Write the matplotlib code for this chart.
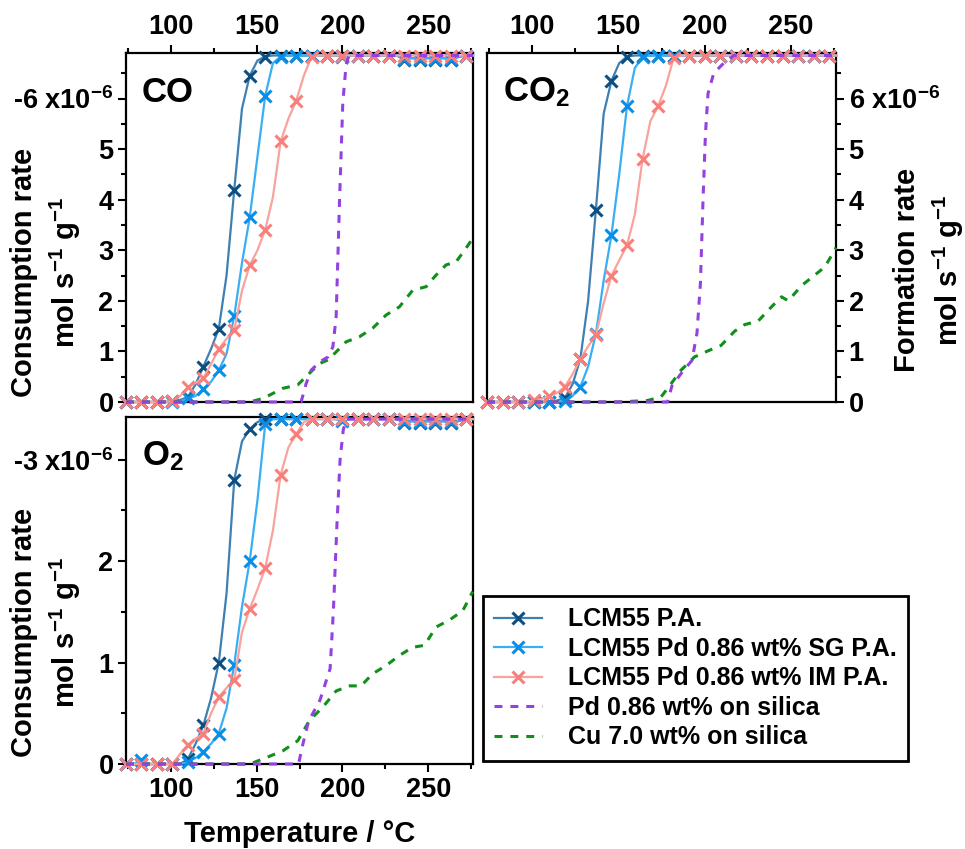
import matplotlib
matplotlib.use("Agg")
import matplotlib.pyplot as plt
from matplotlib.ticker import MultipleLocator, FuncFormatter

plt.rcParams['font.family'] = ['Liberation Sans', 'DejaVu Sans']
plt.rcParams['font.weight'] = 'bold'
plt.rcParams['mathtext.default'] = 'regular'

# temperature grid of the LCM55 curves (markers every second point)
temp = [74, 78.5, 83, 87.5, 92, 96.5, 101, 105.5, 110, 114.5, 119, 123.5, 128, 132.5,
        137, 141.5, 146, 150.5, 155, 159.5, 164, 168.5, 173, 177.5, 182, 186.5, 191,
        195.5, 200, 204.5, 209, 213.5, 218, 222.5, 227, 231.5, 236, 240.5, 245, 249.5,
        254, 258.5, 263, 267.5, 272, 276]

# ---- CO consumption (x1e-6 mol/s/g) ----
co_pa = [0, 0, 0, 0, 0, 0, 0.02, 0.04, 0.1, 0.35, 0.7, 1.05, 1.45, 2.5,
         4.2, 5.8, 6.45, 6.75, 6.83, 6.85, 6.85, 6.85, 6.85, 6.85, 6.85, 6.85, 6.85,
         6.85, 6.85, 6.85, 6.85, 6.85, 6.85, 6.85, 6.85, 6.85, 6.77, 6.8, 6.77, 6.8,
         6.77, 6.8, 6.77, 6.82, 6.85, 6.85]
co_sg = [0, 0, 0, 0, 0, 0, 0, 0.01, 0.07, 0.12, 0.26, 0.4, 0.63, 0.95,
         1.7, 2.75, 3.65, 4.85, 6.05, 6.7, 6.83, 6.85, 6.85, 6.85, 6.85, 6.85, 6.85,
         6.85, 6.82, 6.85, 6.85, 6.85, 6.85, 6.85, 6.85, 6.85, 6.78, 6.8, 6.78, 6.8,
         6.78, 6.8, 6.78, 6.82, 6.85, 6.85]
co_im = [0, 0, 0, 0, 0, 0, 0.02, 0.12, 0.3, 0.38, 0.47, 0.75, 1.05, 1.25,
         1.42, 2.2, 2.7, 3.0, 3.4, 4.05, 5.15, 5.6, 5.95, 6.45, 6.83, 6.85, 6.85,
         6.85, 6.85, 6.85, 6.85, 6.85, 6.85, 6.85, 6.85, 6.85, 6.85, 6.85, 6.85, 6.85,
         6.85, 6.85, 6.85, 6.85, 6.85, 6.85]
co_pd_t = [74, 175.9, 178.8, 181.8, 186.6, 191.5, 194.4, 196.3, 198.3, 200.2, 202.1, 203.7, 276]
co_pd = [0, 0, 0.36, 0.63, 0.79, 0.89, 1.09, 1.68, 4.0, 5.93, 6.66, 6.85, 6.85]
co_cu_t = [74, 146, 153.7, 165.3, 174, 180.8, 186.6, 191.5, 196.3, 202.1, 209.9, 217.6,
           225.4, 233.1, 240.9, 248.7, 254.5, 260.3, 266.1, 271.9, 275.7]
co_cu = [0, 0, 0.07, 0.27, 0.34, 0.57, 0.76, 0.83, 0.99, 1.19, 1.29, 1.46,
         1.72, 1.88, 2.21, 2.28, 2.51, 2.71, 2.77, 3.04, 3.23]

# ---- CO2 formation ----
co2_pa = [0, 0, 0, 0, 0, 0, 0, 0, 0, 0.03, 0.08, 0.35, 0.85, 2.0,
          3.8, 5.7, 6.35, 6.7, 6.83, 6.85, 6.85, 6.85, 6.85, 6.85, 6.85, 6.85, 6.85,
          6.85, 6.85, 6.85, 6.85, 6.85, 6.85, 6.85, 6.85, 6.85, 6.85, 6.85, 6.85, 6.85,
          6.85, 6.85, 6.85, 6.85, 6.85, 6.85]
co2_sg = [0, 0, 0, 0, 0, 0, 0, 0, 0, 0, 0.02, 0.12, 0.3, 0.7,
          1.35, 2.4, 3.3, 4.5, 5.85, 6.6, 6.83, 6.85, 6.85, 6.85, 6.85, 6.85, 6.85,
          6.85, 6.85, 6.85, 6.85, 6.85, 6.85, 6.85, 6.85, 6.85, 6.85, 6.85, 6.85, 6.85,
          6.85, 6.85, 6.85, 6.85, 6.85, 6.85]
co2_im = [0, 0, 0, 0, 0, 0, 0.03, 0.06, 0.12, 0.18, 0.3, 0.55, 0.85, 1.1,
          1.33, 1.95, 2.5, 2.8, 3.1, 3.7, 4.8, 5.55, 5.85, 6.25, 6.8, 6.85, 6.85,
          6.85, 6.85, 6.85, 6.85, 6.85, 6.85, 6.85, 6.85, 6.85, 6.85, 6.85, 6.85, 6.85,
          6.85, 6.85, 6.85, 6.85, 6.85, 6.85]
co2_pd_t = [74, 178.5, 181, 187.8, 192.6, 195.5, 197.5, 199, 200.4, 201.9, 205.2, 211, 216.8, 276]
co2_pd = [0, 0, 0.32, 0.63, 0.82, 1.36, 2.35, 4.0, 5.3, 6.1, 6.5, 6.7, 6.85, 6.85]
co2_cu_t = [74, 150, 166.9, 174.7, 180.5, 186.3, 194, 201.8, 209.5, 217.3, 223.1, 230.9,
            238.6, 244.4, 248.3, 256, 263.7, 269.5, 276]
co2_cu = [0, 0, 0.03, 0.1, 0.36, 0.63, 0.89, 1.01, 1.12, 1.4, 1.53, 1.6,
          1.88, 2.08, 2.0, 2.3, 2.51, 2.67, 3.05]

# ---- O2 consumption ----
o2_pa = [0, 0, 0, 0, 0, 0, 0, 0, 0.05, 0.2, 0.38, 0.65, 1.0, 1.68,
         2.8, 3.18, 3.3, 3.37, 3.4, 3.4, 3.4, 3.4, 3.4, 3.4, 3.4, 3.4, 3.4,
         3.4, 3.4, 3.4, 3.4, 3.4, 3.4, 3.4, 3.4, 3.4, 3.36, 3.38, 3.36, 3.38,
         3.36, 3.38, 3.36, 3.38, 3.4, 3.4]
o2_sg = [0, 0, 0.04, 0, 0, 0, 0, 0, 0.02, 0.06, 0.12, 0.2, 0.3, 0.55,
         0.98, 1.55, 2.0, 2.6, 3.35, 3.4, 3.4, 3.4, 3.4, 3.4, 3.4, 3.4, 3.4,
         3.4, 3.38, 3.4, 3.4, 3.4, 3.4, 3.4, 3.4, 3.4, 3.37, 3.38, 3.37, 3.38,
         3.37, 3.38, 3.37, 3.38, 3.4, 3.4]
o2_im = [0, 0, 0, 0, 0, 0, 0, 0.1, 0.19, 0.25, 0.3, 0.5, 0.66, 0.75,
         0.83, 1.3, 1.53, 1.72, 1.93, 2.3, 2.85, 3.12, 3.25, 3.37, 3.4, 3.4, 3.4,
         3.4, 3.4, 3.4, 3.4, 3.4, 3.4, 3.4, 3.4, 3.4, 3.4, 3.4, 3.4, 3.4,
         3.4, 3.4, 3.4, 3.4, 3.4, 3.4]
o2_pd_t = [74, 174.4, 177, 180.2, 186.9, 192.8, 194.7, 196.7, 198.6, 200.5, 202.5, 276]
o2_pd = [0, 0, 0.2, 0.42, 0.63, 0.94, 1.51, 2.33, 3.0, 3.3, 3.4, 3.4]
o2_cu_t = [74, 146, 153.7, 165.3, 174, 180.8, 188.5, 196.3, 204.1, 210.8, 217.6, 225.4,
           233.1, 240.9, 247.7, 254.5, 262.3, 270, 275.8]
o2_cu = [0, 0, 0.05, 0.13, 0.23, 0.43, 0.56, 0.72, 0.77, 0.77, 0.89, 0.97,
         1.07, 1.15, 1.17, 1.35, 1.42, 1.51, 1.7]

labels = ['LCM55 P.A.', 'LCM55 Pd 0.86 wt% SG P.A.', 'LCM55 Pd 0.86 wt% IM P.A.',
          'Pd 0.86 wt% on silica', 'Cu 7.0 wt% on silica']
line_cols = ['#3f80b2', '#3aaef2', '#f8a39c']
mark_cols = ['#0e4e80', '#0a8fe8', '#f87f7b']
pd_col = '#9342e0'
cu_col = '#10901a'

fig = plt.figure(figsize=(9.65, 8.49), dpi=100)
ax_co = fig.add_axes([0.1306, 0.5265, 0.3596, 0.4111])
ax_co2 = fig.add_axes([0.5047, 0.5265, 0.3617, 0.4111])
ax_o2 = fig.add_axes([0.1306, 0.1001, 0.3596, 0.4087])


def draw(ax, lcm, pd_t, pd_v, cu_t, cu_v):
    handles = []
    for i, vals in enumerate(lcm):
        h, = ax.plot(temp, vals, color=line_cols[i], lw=1.6, marker='x', ms=8, mew=2.2,
                     mec=mark_cols[i], markevery=2, clip_on=False, zorder=3 + i)
        handles.append(h)
    h, = ax.plot(cu_t, cu_v, color=cu_col, lw=2.2, ls=(0, (2.6, 2.6)), clip_on=False, zorder=7)
    h2, = ax.plot(pd_t, pd_v, color=pd_col, lw=2.2, ls=(0, (2.6, 2.6)), clip_on=False, zorder=8)
    handles += [h2, h]
    ax.set_xlim(74, 276)
    ax.xaxis.set_major_locator(MultipleLocator(50))
    ax.xaxis.set_minor_locator(MultipleLocator(25))
    ax.yaxis.set_major_locator(MultipleLocator(1))
    ax.yaxis.set_minor_locator(MultipleLocator(0.5))
    for s in ax.spines.values():
        s.set_linewidth(1.6)
    ax.tick_params(which='both', direction='out', width=1.5, labelsize=19.5)
    ax.tick_params(which='major', length=5.5)
    ax.tick_params(which='minor', length=3.5)
    return handles


def top_fmt(top, text):
    return FuncFormatter(lambda v, p: text if abs(v - top) < 1e-6 else '%d' % round(v))


handles = draw(ax_co, [co_pa, co_sg, co_im], co_pd_t, co_pd, co_cu_t, co_cu)
ax_co.set_ylim(0, 6.9)
ax_co.tick_params(which='both', top=True, labeltop=True, bottom=False, labelbottom=False,
                  left=True, right=False)
ax_co.yaxis.set_major_formatter(top_fmt(6, '-6 x10$^{-6}$'))
ax_co.set_ylabel('Consumption rate\nmol s$^{-1}$ g$^{-1}$', fontsize=21, fontweight='bold',
                 linespacing=1.35)
ax_co.yaxis.set_label_coords(-0.125, 0.37)
ax_co.text(0.045, 0.935, 'CO', transform=ax_co.transAxes, fontsize=25, fontweight='bold',
           va='top', ha='left')

draw(ax_co2, [co2_pa, co2_sg, co2_im], co2_pd_t, co2_pd, co2_cu_t, co2_cu)
ax_co2.set_ylim(0, 6.9)
ax_co2.tick_params(which='both', top=True, labeltop=True, bottom=False, labelbottom=False,
                   left=False, labelleft=False, right=True, labelright=True)
ax_co2.yaxis.set_major_formatter(top_fmt(6, '6 x10$^{-6}$'))
ax_co2.yaxis.set_label_position('right')
ax_co2.set_ylabel('Formation rate\nmol s$^{-1}$ g$^{-1}$', fontsize=21, fontweight='bold',
                  linespacing=1.35)
ax_co2.yaxis.set_label_coords(1.163, 0.378)
ax_co2.text(0.045, 0.935, 'CO$_2$', transform=ax_co2.transAxes, fontsize=25,
            fontweight='bold', va='top', ha='left')

draw(ax_o2, [o2_pa, o2_sg, o2_im], o2_pd_t, o2_pd, o2_cu_t, o2_cu)
ax_o2.set_ylim(0, 3.42)
ax_o2.tick_params(which='both', top=False, right=False)
ax_o2.yaxis.set_major_formatter(top_fmt(3, '-3 x10$^{-6}$'))
ax_o2.set_ylabel('Consumption rate\nmol s$^{-1}$ g$^{-1}$', fontsize=21, fontweight='bold',
                 linespacing=1.35)
ax_o2.yaxis.set_label_coords(-0.125, 0.38)
ax_o2.set_xlabel('Temperature / °C', fontsize=21, fontweight='bold')
ax_o2.xaxis.set_label_coords(0.5, -0.16)
ax_o2.xaxis.label.set_va('top')
ax_o2.text(0.045, 0.935, 'O$_2$', transform=ax_o2.transAxes, fontsize=25, fontweight='bold',
           va='top', ha='left')

leg = fig.legend(handles, labels, loc='upper left', bbox_to_anchor=(483 / 965, 1 - 596 / 849),
                 prop={'weight': 'bold', 'size': 18}, handlelength=1.9,
                 handletextpad=1.05, labelspacing=0.22, borderpad=0.45, borderaxespad=0,
                 fancybox=False, framealpha=1)
leg.get_frame().set_edgecolor('black')
leg.get_frame().set_linewidth(2)

fig.savefig('out.png', dpi=100)
